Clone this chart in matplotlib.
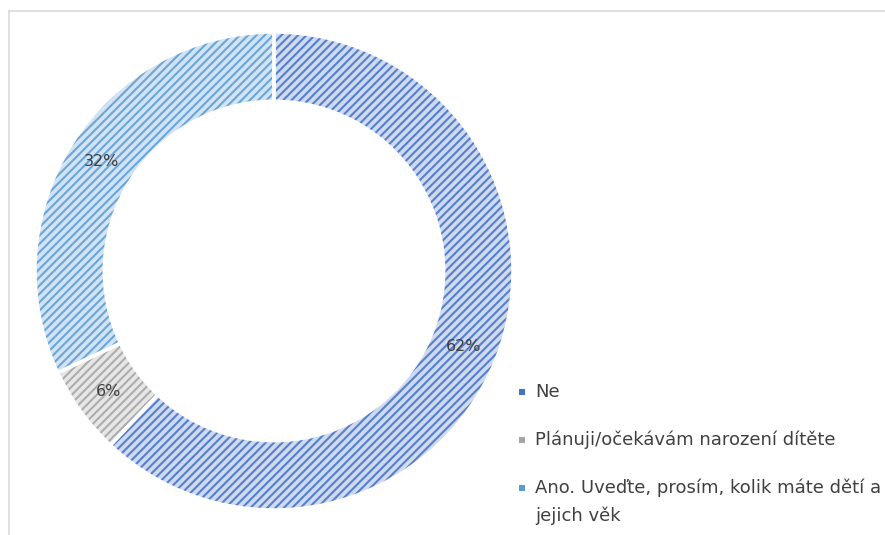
import matplotlib
matplotlib.use("Agg")
import matplotlib.pyplot as plt
from matplotlib.lines import Line2D
import numpy as np

categories = ["Ne", "Plánuji/očekávám narození dítěte", "Ano. Uveďte, prosím, kolik máte dětí a jejich věk"]
legend_lines = [["Ne"], ["Plánuji/očekávám narození dítěte"], ["Ano. Uveďte, prosím, kolik máte dětí a", "jejich věk"]]
values = [62, 6, 32]
labels_pct = ["62%", "6%", "32%"]

hatch_colors = ["#5580CC", "#ADADAD", "#6AA6DA"]
face_colors = ["#CFDAF0", "#E6E6E6", "#D2E3F4"]
marker_colors = ["#4472C4", "#A5A5A5", "#5B9BD5"]

plt.rcParams['hatch.linewidth'] = 1.5
plt.rcParams['font.family'] = ['DejaVu Sans']

W, H = 885, 535
fig = plt.figure(figsize=(W/100, H/100), dpi=100)

cx, cy, R = 274, 271, 239
half = 240
ax = fig.add_axes([(cx-half)/W, (H-cy-half)/H, 2*half/W, 2*half/H])

r = R/half
wedges, _ = ax.pie(values, radius=r, startangle=90, counterclock=False,
                   colors=face_colors,
                   wedgeprops=dict(width=0.29*r, linewidth=0))
for w, hc in zip(wedges, hatch_colors):
    w.set_hatch('////')
    w.set_edgecolor(hc)
    w.set_linewidth(0)

borders, _ = ax.pie(values, radius=r, startangle=90, counterclock=False,
                    wedgeprops=dict(width=0.29*r, linewidth=2.5, edgecolor='white', fill=False))

ax.set_xlim(-1, 1)
ax.set_ylim(-1, 1)
ax.set_aspect('equal')
ax.axis('off')

# percentage labels
tot = sum(values)
start = 90.0
rmid = r*(1-0.145)
for v, lab in zip(values, labels_pct):
    ang = start - 360*v/tot/2
    start -= 360*v/tot
    x = rmid*np.cos(np.radians(ang))
    y = rmid*np.sin(np.radians(ang))
    ax.text(x, y, lab, ha='center', va='center', fontsize=11.5, color='#404040')

# legend (manual)
leg_y = [392, 440, 488]
for lines, col, yy in zip(legend_lines, marker_colors, leg_y):
    fig.add_artist(plt.Rectangle((519/W, (H-yy-3)/H), 6/W, 6/H, transform=fig.transFigure,
                                 facecolor=col, edgecolor='none'))
    for i, t in enumerate(lines):
        fig.text(535/W, (H-yy-28*i)/H, t, fontsize=13, color='#404040', va='center', ha='left')

# chart frame
fig.add_artist(Line2D([8.5/W, 8.5/W], [0, (H-10.5)/H], transform=fig.transFigure, color='#D9D9D9', lw=1.2))
fig.add_artist(Line2D([8.5/W, 1], [(H-10.5)/H, (H-10.5)/H], transform=fig.transFigure, color='#D9D9D9', lw=1.2))

fig.savefig("out.png", dpi=100)
